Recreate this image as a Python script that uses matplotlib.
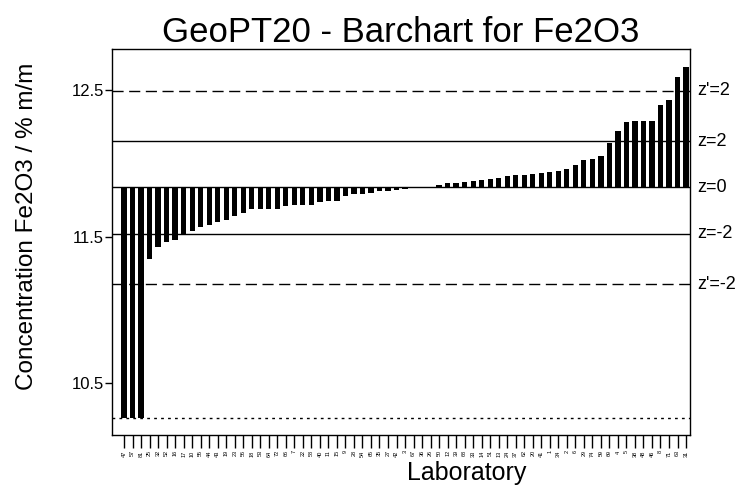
import matplotlib
matplotlib.use("Agg")
import matplotlib.pyplot as plt
import numpy as np

plt.rcParams['font.family'] = ['Liberation Sans', 'DejaVu Sans']

# laboratory codes, sorted by result
labs = ["47", "57", "81", "25", "32", "52", "16", "17", "10", "55",
        "44", "43", "19", "23", "56", "18", "53", "64", "72", "66",
        "7", "22", "58", "40", "11", "15", "9", "28", "54", "65",
        "35", "27", "42", "3", "67", "36", "26", "50", "12", "39",
        "68", "33", "14", "51", "13", "24", "37", "62", "20", "41",
        "1", "34", "2", "6", "29", "74", "59", "69", "4", "5",
        "38", "48", "46", "8", "71", "63", "31"]

# reported Fe2O3 (% m/m); first three are below the plotted range
values = [10.26, 10.26, 10.26, 11.345, 11.43, 11.46, 11.475, 11.52, 11.54, 11.565,
          11.58, 11.60, 11.61, 11.64, 11.66, 11.69, 11.69, 11.69, 11.69, 11.71,
          11.715, 11.715, 11.715, 11.735, 11.74, 11.74, 11.775, 11.79, 11.79, 11.80,
          11.81, 11.81, 11.815, 11.825, 11.83, 11.833, 11.84, 11.85, 11.865, 11.865,
          11.87, 11.88, 11.885, 11.89, 11.90, 11.91, 11.92, 11.92, 11.93, 11.935,
          11.94, 11.945, 11.96, 11.99, 12.02, 12.03, 12.05, 12.14, 12.22, 12.28,
          12.29, 12.29, 12.29, 12.40, 12.43, 12.59, 12.66]

assigned = 11.835
sigma = 0.158      # z limits
sigma_p = 0.33     # z' limits
low_limit = 10.26

fig = plt.figure(figsize=(7.38, 4.94), dpi=100)
ax = fig.add_axes([0.1518, 0.1194, 0.7832, 0.7814])

x = np.arange(len(values))
v = np.array(values)
ax.bar(x, v - assigned, bottom=assigned, width=0.62, color='black')

ax.axhline(assigned, color='black', lw=1.0)
ax.axhline(assigned + 2 * sigma, color='black', lw=1.0)
ax.axhline(assigned - 2 * sigma, color='black', lw=1.0)
ax.axhline(assigned + 2 * sigma_p, color='black', lw=1.0, ls=(0, (8, 4)))
ax.axhline(assigned - 2 * sigma_p, color='black', lw=1.0, ls=(0, (8, 4)))
ax.axhline(low_limit, color='black', lw=1.0, ls=(0, (2, 3)))

ax.set_xlim(-1.41, len(values) - 1 + 0.47)
ax.set_ylim(10.145, 12.78)
ax.set_yticks([10.5, 11.5, 12.5])
ax.set_yticklabels(["10.5", "11.5", "12.5"], fontsize=12)
ax.tick_params(axis='y', direction='out', length=5, width=1, pad=1)
ax.set_xticks(x)
ax.set_xticklabels(labs, rotation=90, fontsize=4)
ax.tick_params(axis='x', direction='out', length=9, width=1, pad=2)
for s in ax.spines.values():
    s.set_linewidth(1.0)

ax.set_title("GeoPT20 - Barchart for Fe2O3", fontsize=25, pad=4)
ax.set_xlabel("Laboratory", fontsize=18)
ax.set_ylabel("Concentration Fe2O3 / % m/m", fontsize=17.5)
ax.xaxis.set_label_coords(0.614, -0.068)
ax.yaxis.set_label_coords(-0.128, 0.54)

zlabels = [("z'=2", assigned + 2 * sigma_p), ("z=2", assigned + 2 * sigma),
           ("z=0", assigned), ("z=-2", assigned - 2 * sigma),
           ("z'=-2", assigned - 2 * sigma_p)]
for txt, yv in zlabels:
    ax.text(1.012, yv, txt, transform=ax.get_yaxis_transform(),
            va='center', ha='left', fontsize=13)

fig.savefig("out.png", dpi=100)
